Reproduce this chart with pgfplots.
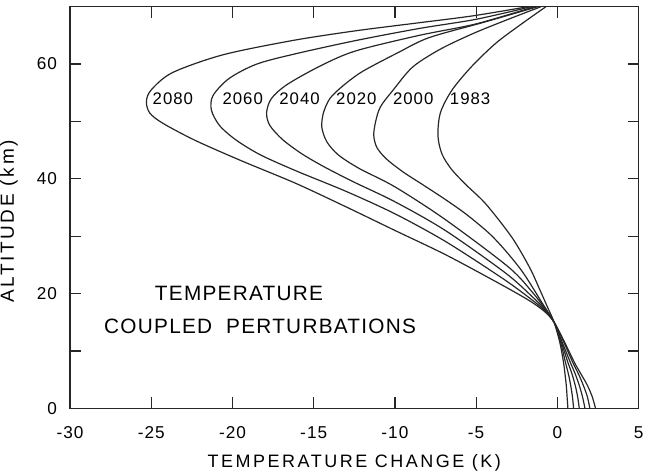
\documentclass[border=0pt]{standalone}
\usepackage{fontspec}
\setmainfont{Liberation Sans}[LetterSpace=6]
\newfontfamily\lblfont{Liberation Sans}[LetterSpace=14]
\usepackage{pgfplots}
\pgfplotsset{compat=1.18}

\begin{document}
\begin{tikzpicture}
\begin{axis}[
  width=284.5pt, height=201pt, scale only axis,
  xmin=-30, xmax=5, ymin=0, ymax=70,
  axis line style={line width=0.75pt, black!85},
  xtick={-30,-25,...,5},
  xticklabels={-30,-25,-20,-15,-10,-5,0,5},
  ytick={0,10,...,70},
  yticklabels={0,,20,,40,,60,},
  tick pos=both, xticklabel pos=bottom, yticklabel pos=left,
  major tick length=5.5pt,
  tick style={line width=0.6pt, black!85},
  tick label style={font=\fontsize{8.6}{10}\selectfont},
  xticklabel style={yshift=-5.5pt},
  yticklabel style={xshift=-3pt},
  xlabel={TEMPERATURE CHANGE (K)},
  ylabel={ALTITUDE (km)},
  xlabel style={at={(axis description cs:0.5,-0.114)}, anchor=north, inner sep=0pt,
    font=\lblfont\fontsize{9}{11}\selectfont},
  ylabel style={at={(axis description cs:-0.0914,0.465)}, anchor=south, inner sep=0pt,
    font=\lblfont\fontsize{9.5}{11}\selectfont},
  crv/.style={black!85, line width=0.6pt, smooth, tension=0.5, mark=none},
]
% 2080
\addplot[crv] coordinates {(2.35,0) (2.15,2) (1.85,4) (1.45,6) (1.05,8) (0.45,11.5) (-0.2,15)
 (-0.8,16.9) (-1.8,18.9) (-3.8,22.1) (-6.9,26.8) (-10,31.0) (-13,35.1) (-16.1,39.2)
 (-19.5,43.2) (-22.3,46.7) (-24.3,49.7) (-25.1,51.5) (-25.3,53.5) (-25.0,55.5)
 (-23.7,58.5) (-20.6,61.6) (-16.3,64.1) (-12.4,65.8) (-8.5,67.2) (-5.2,68.4) (-1.8,70)};
% 2060
\addplot[crv] coordinates {(2.0,0) (1.85,2) (1.6,4) (1.3,6) (0.95,8) (0.4,11.5) (-0.2,15)
 (-0.8,17.1) (-1.7,19.2) (-3.4,22.7) (-6.9,29.1) (-10,33.9) (-13,37.8) (-16.1,41.4)
 (-18.3,44.2) (-19.8,46.8) (-20.8,49.3) (-21.3,52) (-21.2,54.5) (-20.2,57.5)
 (-18.5,60) (-16.1,61.8) (-12.4,64.1) (-8.5,66.2) (-5,67.8) (-1.6,70)};
% 2040
\addplot[crv] coordinates {(1.7,0) (1.55,2) (1.35,4) (1.1,6) (0.8,8) (0.3,11.5) (-0.2,15)
 (-0.8,17.3) (-1.6,19.6) (-3.2,23.6) (-6.9,31) (-10,36) (-12.5,39.4) (-14.3,42)
 (-15.7,44.3) (-16.9,46.8) (-17.7,49.3) (-17.9,51.5) (-17.6,54) (-16.6,56.5)
 (-14.5,59.8) (-12.4,62.3) (-8.5,65) (-5,67) (-1.4,70)};
% 2020
\addplot[crv] coordinates {(1.35,0) (1.25,2) (1.1,4) (0.9,6) (0.65,8) (0.25,11.5) (-0.2,15)
 (-0.8,17.5) (-1.5,20.1) (-3,24.6) (-6.9,32.9) (-10,38.6) (-12.2,41.8) (-13.5,44.2)
 (-14.2,46.5) (-14.5,49) (-14.4,51.5) (-14.0,54) (-13.2,56.2) (-12,58.7) (-9.8,62)
 (-7.9,64.6) (-4.5,67.3) (-1.2,70)};
% 2000
\addplot[crv] coordinates {(1.0,0) (0.93,2) (0.82,4) (0.68,6) (0.5,8) (0.2,11.5) (-0.2,15)
 (-0.9,18.2) (-2.1,23.6) (-3.2,27.5) (-4.2,30.5) (-5.6,33.8) (-6.9,36.4) (-8.3,39.0)
 (-9.5,41.2) (-10.5,43.4) (-11.1,45.4) (-11.3,47.5) (-11.2,49.8) (-10.9,52.5)
 (-10.1,55.5) (-8.9,59.5) (-7.2,62.6) (-5.2,65.3) (-3.2,67.6) (-1.0,70)};
% 1983
\addplot[crv] coordinates {(0.65,0) (0.6,2) (0.55,4) (0.47,6) (0.38,8) (0.15,11.5) (-0.2,15)
 (-0.6,17.6) (-1.1,20.8) (-1.7,24.5) (-2.8,29.8) (-4.4,35.6) (-5.6,38.9) (-6.5,41.6)
 (-7.1,44.3) (-7.35,47.5) (-7.2,51.5) (-6.5,55.4) (-5.3,59.5) (-3.8,63.6) (-2.2,67) (-0.7,70)};

\begin{scope}[every node/.style={anchor=west, inner sep=0.5pt, font=\fontsize{8.4}{10}\selectfont}]
\node at (axis cs:-25.0,54) {2080};
\node at (axis cs:-20.7,54) {2060};
\node at (axis cs:-17.2,54) {2040};
\node at (axis cs:-13.7,54) {2020};
\node at (axis cs:-10.2,54) {2000};
\node at (axis cs:-6.7,54) {1983};
\end{scope}
\node[font=\fontsize{10.4}{12}\selectfont] at (axis cs:-19.6,20.0) {TEMPERATURE};
\node[font=\fontsize{10.4}{12}\selectfont] at (axis cs:-18.3,14.3) {COUPLED\ \ PERTURBATIONS};
\end{axis}
\end{tikzpicture}
\end{document}
